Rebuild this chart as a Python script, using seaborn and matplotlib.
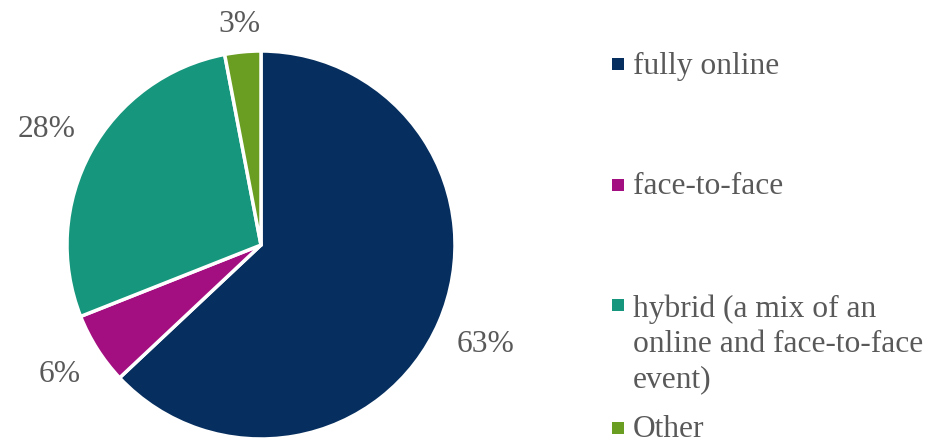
import matplotlib
matplotlib.use("Agg")
import matplotlib.pyplot as plt
from matplotlib.patches import Rectangle
import numpy as np
import seaborn as sns

# Event format shares (percent)
categories = ["fully online", "face-to-face",
              "hybrid (a mix of an\nonline and face-to-face\nevent)", "Other"]
shares = [63, 6, 28, 3]
pct_labels = ["63%", "6%", "28%", "3%"]
colors = ["#062F5F", "#A30E80", "#16967C", "#6A9E22"]

sns.set_theme(style="white")
plt.rcParams["font.family"] = ["Liberation Serif", "DejaVu Serif"]
text_color = "#595959"

W, H = 933, 443
fig = plt.figure(figsize=(W / 100, H / 100), dpi=100)
ax = fig.add_axes([0, 0, 1, 1])

# pie geometry in pixels
cx, cy, r = 261, 245, 194

wedges, _ = ax.pie(shares, colors=colors, startangle=90, counterclock=False,
                   radius=1.0, center=(0, 0), frame=True,
                   wedgeprops=dict(edgecolor="white", linewidth=2.5))
ax.set_xlim(-cx / r, (W - cx) / r)
ax.set_ylim(-(H - cy) / r, cy / r)
ax.set_aspect("equal")
ax.axis("off")

# outside percentage labels (baseline sits half a digit height below the anchor)
label_dist = [1.26, 1.226, 1.26, 1.157]
for w, lab, d in zip(wedges, pct_labels, label_dist):
    ang = np.deg2rad((w.theta1 + w.theta2) / 2)
    ax.text(d * np.cos(ang), d * np.sin(ang) - 10 / r, lab,
            ha="center", va="baseline", fontsize=22.7, color=text_color)

# legend drawn in figure pixel space
def fx(px):
    return px / W

def fy(py):
    return 1 - py / H

marker_y = [64, 185, 305, 428]
baselines = [[74], [194], [317, 352, 387], [437]]
for name, col, my, bls in zip(categories, colors, marker_y, baselines):
    fig.patches.append(Rectangle((fx(612), fy(my + 6)), 12 / W, 12 / H,
                                 transform=fig.transFigure, facecolor=col,
                                 edgecolor="none"))
    for line, b in zip(name.split("\n"), bls):
        fig.text(fx(633), fy(b), line, ha="left", va="baseline",
                 fontsize=22.7, color=text_color)

fig.savefig("out.png", dpi=100)
